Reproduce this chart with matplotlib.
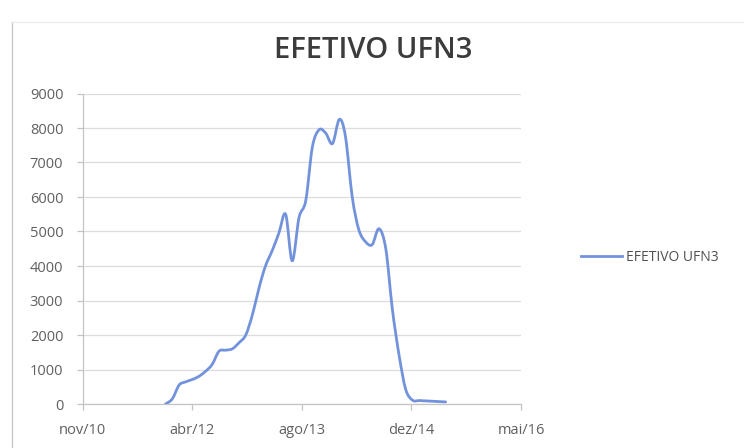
import matplotlib
matplotlib.use("Agg")
import matplotlib.pyplot as plt
import matplotlib.dates as mdates
from matplotlib.path import Path
from matplotlib.patches import PathPatch
from matplotlib.lines import Line2D
import numpy as np
import datetime as dt

# ---- data ----
months = ["2011-12", "2012-01", "2012-02", "2012-03", "2012-04", "2012-05", "2012-06",
          "2012-07", "2012-08", "2012-09", "2012-10", "2012-11", "2012-12", "2013-01",
          "2013-02", "2013-03", "2013-04", "2013-05", "2013-06", "2013-07", "2013-08",
          "2013-09", "2013-10", "2013-11", "2013-12", "2014-01", "2014-02", "2014-03",
          "2014-04", "2014-05", "2014-06", "2014-07", "2014-08", "2014-09", "2014-10",
          "2014-11", "2014-12", "2015-01", "2015-02", "2015-03", "2015-04", "2015-05",
          "2015-06"]
efetivo = [0, 150, 550, 640, 710, 800, 950,
           1150, 1530, 1560, 1600, 1780, 2000, 2600,
           3400, 4000, 4450, 4950, 5500, 4150, 5400,
           5900, 7450, 7950, 7850, 7550, 8250, 7750,
           6000, 5050, 4700, 4620, 5080, 4500, 2750,
           1400, 420, 110, 100, 90, 80, 70,
           60]
series_name = "EFETIVO UFN3"
title = "EFETIVO UFN3"
x_tick_dates = ["2010-11-18", "2012-04-01", "2013-08-14", "2014-12-27", "2016-05-10"]
x_tick_labels = ["nov/10", "abr/12", "ago/13", "dez/14", "mai/16"]
y_ticks = [0, 1000, 2000, 3000, 4000, 5000, 6000, 7000, 8000, 9000]

# ---- figure ----
plt.rcParams['font.family'] = ['Open Sans', 'DejaVu Sans']
fig = plt.figure(figsize=(7.44, 4.48), dpi=100)
ax = fig.add_axes([82.7 / 744, 44 / 448, (521 - 82.7) / 744, (404 - 93.5) / 448])

line_color = '#7293dc'
xs = np.array([mdates.date2num(dt.datetime.strptime(m + "-01", "%Y-%m-%d")) for m in months])
ys = np.array(efetivo, dtype=float)

# smoothed line (Excel-like Catmull-Rom bezier), drawn in data coordinates
pts = np.column_stack([xs, ys])
verts = [pts[0]]
codes = [Path.MOVETO]
n = len(pts)
for i in range(n - 1):
    p0 = pts[i - 1] if i > 0 else pts[i]
    p1 = pts[i]
    p2 = pts[i + 1]
    p3 = pts[i + 2] if i + 2 < n else pts[i + 1]
    c1 = p1 + (p2 - p0) / 6.0
    c2 = p2 - (p3 - p1) / 6.0
    verts += [c1, c2, p2]
    codes += [Path.CURVE4] * 3
patch = PathPatch(Path(verts, codes), facecolor='none', edgecolor=line_color,
                  lw=2.0, capstyle='round', joinstyle='round', zorder=3)
ax.add_patch(patch)

tick_nums = [mdates.date2num(dt.datetime.strptime(d, "%Y-%m-%d")) for d in x_tick_dates]
ax.set_xlim(tick_nums[0], tick_nums[-1])
ax.set_ylim(0, 9000)
ax.set_xticks(tick_nums)
ax.set_xticklabels(x_tick_labels)
ax.set_yticks(y_ticks)
ax.set_yticklabels([str(v) for v in y_ticks])

ax.grid(axis='y', color='#dcdcdc', lw=0.9)
ax.set_axisbelow(True)
for s in ['top', 'right']:
    ax.spines[s].set_visible(False)
for s in ['left', 'bottom']:
    ax.spines[s].set_color('#c4c4c4')
    ax.spines[s].set_linewidth(0.9)
ax.tick_params(axis='both', colors='#c4c4c4', labelcolor='#606060', labelsize=10.5,
               length=4, width=0.9, direction='out')
ax.tick_params(axis='x', pad=10)
ax.tick_params(axis='y', pad=10)

fig.text(373 / 744, 1 - 50 / 448, title, ha='center', va='center',
         fontsize=21, fontweight='semibold', color='#3c3c3c', family=['Open Sans', 'DejaVu Sans'])

handle = Line2D([], [], color=line_color, lw=2.0)
fig.legend([handle], [series_name], loc='center left', bbox_to_anchor=(568 / 744, 1 - 257 / 448),
           frameon=False, fontsize=10, handlelength=3.0, handletextpad=0.25,
           labelcolor='#505050')

# chart area border (scan)
fig.add_artist(Line2D([12 / 744, 12 / 744], [0, 1 - 22 / 448], transform=fig.transFigure,
                      color='#c8c8c8', lw=1.0))
fig.add_artist(Line2D([12 / 744, 1], [1 - 22 / 448, 1 - 22 / 448], transform=fig.transFigure,
                      color='#ececec', lw=1.0))

fig.savefig("out.png", dpi=100)
